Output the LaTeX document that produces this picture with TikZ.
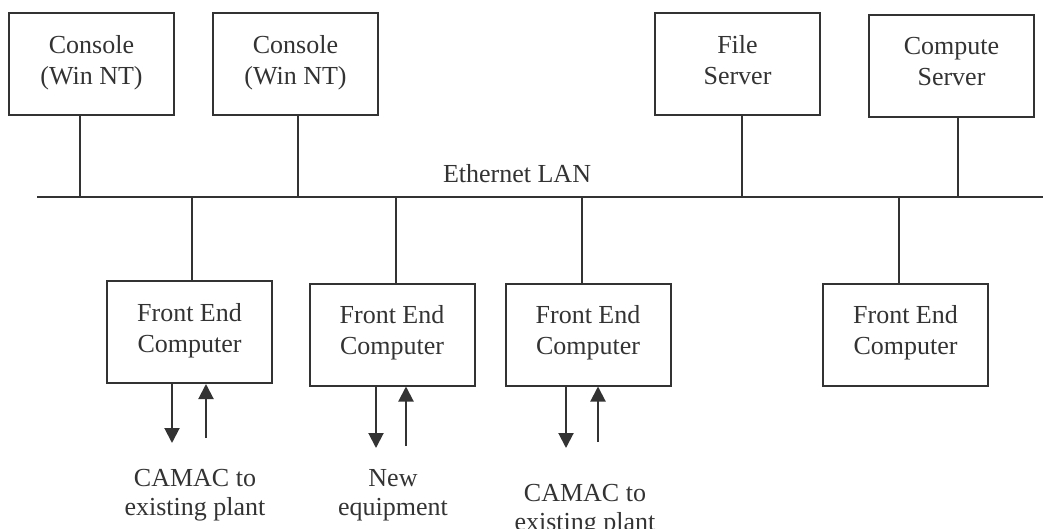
\documentclass[tikz,border=0pt]{standalone}
\usepackage{fontspec}
\setmainfont{Liberation Serif}
\usetikzlibrary{arrows.meta}

\tikzset{
  unit/.style={draw=black!80, line width=1pt, minimum width=82.5pt, minimum height=51pt,
    align=center, text=black!80, font=\fontsize{13}{15.5}\selectfont},
  wire/.style={draw=black!80, line width=1pt},
  flow/.style={wire, -{Triangle[length=7.5pt,width=7.5pt]}},
  note/.style={align=center, font=\fontsize{13}{14.5}\selectfont, text=black!80}
}

\begin{document}
\begin{tikzpicture}[x=0.5pt,y=-0.5pt]
\useasboundingbox (0,0) rectangle (1043,529);

% machines on top of the LAN
\node[unit] (con1) at (91.5,64) {Console\\(Win NT)\\[-11pt]};
\node[unit] (con2) at (295.5,64) {Console\\(Win NT)\\[-11pt]};
\node[unit] (fsrv) at (737.5,64) {File\\Server\\[-11pt]};
\node[unit] (csrv) at (951.5,66) {Compute\\Server\\[-11pt]};

% the LAN
\coordinate (busL) at (37,197);
\coordinate (busR) at (1043,197);
\draw[wire] (busL) -- (busR);
\node[note] (lan) at (517,174) {Ethernet LAN};

\coordinate (t1) at (80,197);
\coordinate (t2) at (298,197);
\coordinate (t3) at (742,197);
\coordinate (t4) at (958,197);
\draw[wire] (con1.south -| t1) -- (t1);
\draw[wire] (con2.south -| t2) -- (t2);
\draw[wire] (fsrv.south -| t3) -- (t3);
\draw[wire] (csrv.south -| t4) -- (t4);

% front ends below the LAN
\node[unit] (fe1) at (189.5,332) {Front End\\Computer\\[-11pt]};
\node[unit] (fe2) at (392,334.5) {Front End\\Computer\\[-11pt]};
\node[unit] (fe3) at (588,334.5) {Front End\\Computer\\[-11pt]};
\node[unit] (fe4) at (905.5,334.5) {Front End\\Computer\\[-11pt]};

\coordinate (b1) at (192,197);
\coordinate (b2) at (396,197);
\coordinate (b3) at (582,197);
\coordinate (b4) at (899,197);
\draw[wire] (b1) -- (b1 |- fe1.north);
\draw[wire] (b2) -- (b2 |- fe2.north);
\draw[wire] (b3) -- (b3 |- fe3.north);
\draw[wire] (b4) -- (b4 |- fe4.north);

% plant links
\coordinate (d1) at (172,443);
\coordinate (u1) at (206,438);
\draw[flow] (fe1.south -| d1) -- (d1);
\draw[flow] (u1) -- (u1 |- fe1.south);
\node[note] (plant1) at (195,495) {CAMAC to\\existing plant};

\coordinate (d2) at (376,448);
\coordinate (u2) at (406,446);
\draw[flow] (fe2.south -| d2) -- (d2);
\draw[flow] (u2) -- (u2 |- fe2.south);
\node[note] (equip) at (393,495) {New\\equipment};

\coordinate (d3) at (566,448);
\coordinate (u3) at (598,442);
\draw[flow] (fe3.south -| d3) -- (d3);
\draw[flow] (u3) -- (u3 |- fe3.south);
\node[note] (plant2) at (585,510) {CAMAC to\\existing plant};
\end{tikzpicture}
\end{document}
